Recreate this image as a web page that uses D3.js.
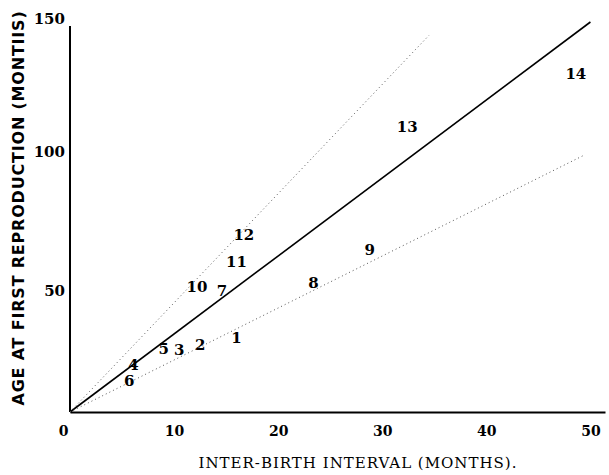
<!DOCTYPE html>
<html>
<head>
<meta charset="utf-8">
<script src="https://cdn.jsdelivr.net/npm/d3@7"></script>
<style>
  body { margin: 0; background: #fff; }
  svg text { fill: #000; }
</style>
</head>
<body>
<svg id="viz" width="609" height="475"></svg>
<script>
// point labels and their positions (months)
var labels = ["1","2","3","4","5","6","7","8","9","10","11","12","13","14"];
var interval = [16.0, 12.5, 10.5, 6.1, 9.0, 5.7, 14.6, 23.4, 28.8, 12.2, 16.0, 16.7, 32.4, 48.6];
var age = [28.5, 26, 24, 18, 24.5, 12, 46.5, 49.6, 62.3, 48, 57.7, 68, 109.6, 130];

// reference lines: slope and x end
var refSlopes = [3, 4.2, 2];
var refEnds = [50, 34.5, 49.5];
var refDash = [null, "1,3", "1,3"];

var xTicks = [0, 10, 20, 30, 40, 50];
var yTicks = [50, 100, 150];

var svg = d3.select("#viz");
var x = d3.scaleLinear().domain([0, 51.4]).range([70, 605]);
var y = d3.scaleLinear().domain([0, 150]).range([412, 22]);

// x axis
var xa = svg.append("g").attr("transform", "translate(0," + y(0) + ")")
  .call(d3.axisBottom(x).tickValues(xTicks).tickSize(0).tickPadding(14).tickFormat(d3.format("d")));
xa.select(".domain").attr("stroke", "#000").attr("stroke-width", 2);
xa.selectAll("text").attr("font-family", "DejaVu Serif").attr("font-weight", "bold").attr("font-size", 14);
xa.selectAll(".tick").filter(function(d) { return d == 0; }).select("text").attr("dx", -7);

// y axis
var ya = svg.append("g").attr("transform", "translate(" + x(0) + ",0)")
  .call(d3.axisLeft(y).tickValues(yTicks).tickSize(0).tickPadding(5).tickFormat(d3.format("d")));
ya.select(".domain").attr("stroke", "#000").attr("stroke-width", 2).attr("d", "M0," + y(0) + "V26");
ya.selectAll("text").attr("font-family", "DejaVu Serif").attr("font-weight", "bold").attr("font-size", 15)
  .attr("dy", function(d) { return d == 50 ? "0.9em" : d == 150 ? "0.1em" : "0.32em"; });

// reference lines
var line = d3.line().x(function(d) { return x(d[0]); }).y(function(d) { return y(d[1]); });
refSlopes.forEach(function(s, i) {
  svg.append("path")
    .attr("d", line([[0, 0], [refEnds[i], refEnds[i] * s]]))
    .attr("fill", "none")
    .attr("stroke", i == 0 ? "#000" : "#555")
    .attr("stroke-width", i == 0 ? 1.6 : 1)
    .attr("stroke-dasharray", refDash[i]);
});

// number labels
svg.append("g").selectAll("text")
  .data(labels)
  .enter().append("text")
  .attr("x", function(d, i) { return x(interval[i]); })
  .attr("y", function(d, i) { return y(age[i]); })
  .attr("text-anchor", "middle")
  .attr("dy", "0.35em")
  .attr("font-family", "DejaVu Serif")
  .attr("font-weight", "bold")
  .attr("font-size", 15)
  .text(function(d) { return d; });

// axis titles
svg.append("text")
  .attr("x", 358).attr("y", 468)
  .attr("text-anchor", "middle")
  .attr("font-family", "DejaVu Serif")
  .attr("font-size", 15)
  .attr("letter-spacing", 1)
  .text("INTER-BIRTH INTERVAL (MONTHS).");

svg.append("text")
  .attr("transform", "translate(24,208) rotate(-90)")
  .attr("text-anchor", "middle")
  .attr("font-family", "DejaVu Sans")
  .attr("font-weight", "bold")
  .attr("font-size", 16)
  .attr("letter-spacing", 0.8)
  .text("AGE AT FIRST REPRODUCTION (MONTIIS)");
</script>
</body>
</html>
